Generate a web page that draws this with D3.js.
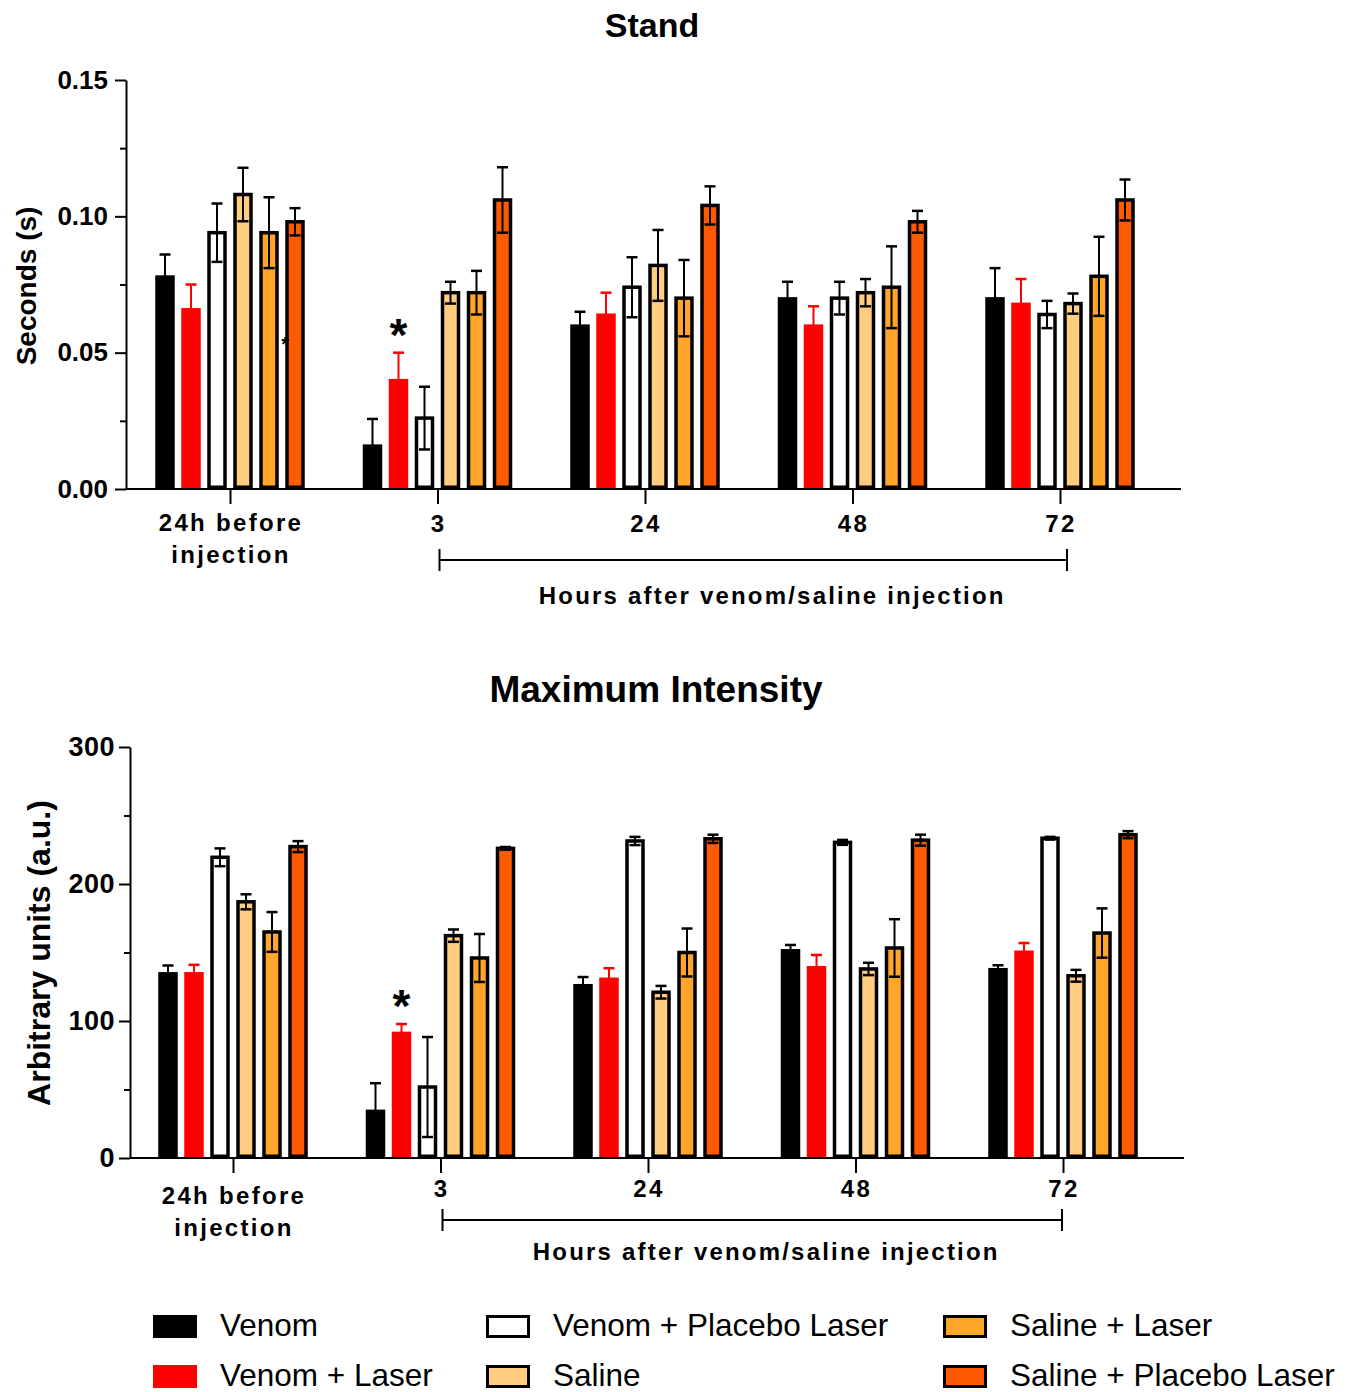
<!DOCTYPE html>
<html><head><meta charset="utf-8">
<script src="https://cdn.jsdelivr.net/npm/d3@7"></script>
<style>
html,body{margin:0;padding:0;background:#fff;}
svg text{font-family:"Liberation Sans", Arial, sans-serif;}
</style></head><body>
<svg id="chart" width="1354" height="1392"></svg>
<script>
// ---------- DATA ----------
const groups = ["24h before injection", "3", "24", "48", "72"];
const groupLabels = [["24h before", "injection"], ["3"], ["24"], ["48"], ["72"]];
const series = ["Venom", "Venom + Laser", "Venom + Placebo Laser", "Saline", "Saline + Laser", "Saline + Placebo Laser"];
const seriesColors = ["#000000", "#ff0000", "#ffffff", "#ffcc80", "#ffa52a", "#ff5a00"];

// Stand (seconds)
const standVenom          = [0.078, 0.016, 0.060, 0.070, 0.070];
const standVenomLaser     = [0.066, 0.040, 0.064, 0.060, 0.068];
const standVenomPlacebo   = [0.094, 0.026, 0.074, 0.070, 0.064];
const standSaline         = [0.108, 0.072, 0.082, 0.072, 0.068];
const standSalineLaser    = [0.094, 0.072, 0.070, 0.074, 0.078];
const standSalinePlacebo  = [0.098, 0.106, 0.104, 0.098, 0.106];
const standVenomErr         = [0.008, 0.0097, 0.005, 0.006, 0.011];
const standVenomLaserErr    = [0.009, 0.010, 0.008, 0.007, 0.009];
const standVenomPlaceboErr  = [0.0107, 0.0115, 0.011, 0.006, 0.005];
const standSalineErr        = [0.0098, 0.004, 0.013, 0.005, 0.0037];
const standSalineLaserErr   = [0.013, 0.008, 0.014, 0.015, 0.0145];
const standSalinePlaceboErr = [0.005, 0.012, 0.007, 0.004, 0.0075];
const standTicks = [0, 0.05, 0.10, 0.15];
const standMinorTicks = [0.025, 0.075, 0.125];

// Maximum Intensity (a.u.)
const intVenom          = [135, 34.6, 126.3, 151.8, 138];
const intVenomLaser     = [135, 91.5, 131, 139.4, 150.7];
const intVenomPlacebo   = [219.5, 51.8, 231.4, 230.4, 233.4];
const intSaline         = [187, 162.3, 121, 138, 133];
const intSalineLaser    = [165, 146, 150, 153.3, 164.2];
const intSalinePlacebo  = [227.3, 226, 233, 232, 236];
const intVenomErr         = [5.5, 20, 5.8, 3.7, 2.7];
const intVenomLaserErr    = [6, 6.3, 7.5, 8.8, 6.2];
const intVenomPlaceboErr  = [6.5, 36.5, 3, 1.8, 1];
const intSalineErr        = [5.5, 4.5, 4.6, 4.5, 4.3];
const intSalineLaserErr   = [14.5, 17.5, 17.5, 21, 18];
const intSalinePlaceboErr = [4, 1, 3, 4, 2.6];
const intTicks = [0, 100, 200, 300];
const intMinorTicks = [50, 150, 250];

// significance marks: [group, series]
const standStars = [["3", "Venom + Laser"]];
const intStars = [["3", "Venom + Laser"]];
const standStray = [["24h before injection", "Saline + Placebo Laser", 0.0546]];

// ---------- DRAW ----------
const svg = d3.select("#chart");
const legendRows = [["Venom", "Venom + Placebo Laser", "Saline + Laser"],
                    ["Venom + Laser", "Saline", "Saline + Placebo Laser"]];

function drawPanel(p) {
  const g = svg.append("g");
  const x = d3.scalePoint().domain(groups).range([p.c0, p.c1]);
  const xi = d3.scaleBand().domain(series).range([-78, 78]).paddingInner(0.25).paddingOuter(0.125);
  const y = d3.scaleLinear().domain(p.domain).range([p.yb, p.yt]);
  const sw = 3.5;

  g.append("text").attr("x", p.titleX).attr("y", p.titleY).attr("text-anchor", "middle")
    .attr("font-weight", "bold").attr("font-size", p.titleSize).text(p.title);

  g.append("text").attr("transform", `translate(${p.ylabX},${p.ylabY}) rotate(-90)`)
    .attr("text-anchor", "middle").attr("font-weight", "bold").attr("font-size", p.ylabSize)
    .text(p.ylabel);

  // bars
  series.forEach((s, si) => {
    groups.forEach((gn, gi) => {
      const v = p.means[si][gi];
      const x0 = x(gn) + xi(s), w = xi.bandwidth();
      if (si >= 2) {
        g.append("rect").attr("x", x0 + sw / 2).attr("y", y(v))
          .attr("width", w - sw).attr("height", y(0) - y(v) - sw / 2)
          .attr("fill", seriesColors[si]).attr("stroke", "#000").attr("stroke-width", sw);
      } else {
        g.append("rect").attr("x", x0).attr("y", y(v) - 1)
          .attr("width", w).attr("height", y(0) - y(v) + 1)
          .attr("fill", seriesColors[si]);
      }
    });
  });

  // error bars
  series.forEach((s, si) => {
    groups.forEach((gn, gi) => {
      const v = p.means[si][gi], e = p.errs[si][gi];
      const cx = x(gn) + xi(s) + xi.bandwidth() / 2;
      const col = si === 1 ? "#ff0000" : "#000";
      const lo = si >= 2 ? v - e : v;
      g.append("line").attr("x1", cx).attr("x2", cx).attr("y1", y(lo)).attr("y2", y(v + e))
        .attr("stroke", col).attr("stroke-width", 2);
      g.append("line").attr("x1", cx - 5.5).attr("x2", cx + 5.5).attr("y1", y(v + e)).attr("y2", y(v + e))
        .attr("stroke", col).attr("stroke-width", 2.5);
      if (si >= 2) {
        g.append("line").attr("x1", cx - 5.5).attr("x2", cx + 5.5).attr("y1", y(v - e)).attr("y2", y(v - e))
          .attr("stroke", col).attr("stroke-width", 2.5);
      }
    });
  });

  // stars
  p.stars.forEach(([gn, s]) => {
    const si = series.indexOf(s), gi = groups.indexOf(gn);
    const top = p.means[si][gi] + p.errs[si][gi];
    g.append("text").attr("x", x(gn) + xi(s) + xi.bandwidth() / 2).attr("y", y(top) - 2)
      .attr("text-anchor", "middle").attr("font-weight", "bold").attr("font-size", 46).text("*");
  });
  (p.stray || []).forEach(([gn, s, v]) => {
    g.append("text").attr("x", x(gn) + xi(s)).attr("y", y(v) + 11)
      .attr("text-anchor", "middle").attr("font-weight", "bold").attr("font-size", 20).text("*");
  });

  // y axis
  const ya = g.append("g").attr("transform", `translate(${p.ax},0)`)
    .call(d3.axisLeft(y).tickValues(p.ticks).tickSize(11).tickSizeOuter(0).tickPadding(p.tickPad)
      .tickFormat(d3.format(p.fmt)));
  ya.select(".domain").attr("stroke-width", 2);
  ya.selectAll(".tick line").attr("stroke-width", 2);
  ya.selectAll(".tick text").attr("font-size", p.tickSize).attr("font-weight", "bold")
    .attr("font-family", '"Liberation Sans", Arial, sans-serif')
    .attr("letter-spacing", p.tickLS).attr("fill", "#000");
  const ym = g.append("g").attr("transform", `translate(${p.ax},0)`)
    .call(d3.axisLeft(y).tickValues(p.minor).tickSize(6).tickFormat(""));
  ym.select(".domain").remove();
  ym.selectAll(".tick line").attr("stroke-width", 2);

  // x axis
  g.append("line").attr("x1", p.ax).attr("x2", p.xEnd).attr("y1", y(0)).attr("y2", y(0))
    .attr("stroke", "#000").attr("stroke-width", 2);
  const xa = g.append("g").attr("transform", `translate(0,${y(0)})`)
    .call(d3.axisBottom(x).tickSize(15).tickFormat(""));
  xa.select(".domain").remove();
  xa.selectAll(".tick line").attr("stroke-width", 2);

  groups.forEach((gn, gi) => {
    const lines = groupLabels[gi];
    lines.forEach((t, li) => {
      const yy = lines.length > 1 ? p.catY + li * 32 : p.numY;
      g.append("text").attr("x", x(gn) + 1).attr("y", yy).attr("text-anchor", "middle")
        .attr("font-weight", "bold").attr("font-size", 24).attr("letter-spacing", 2.3).text(t);
    });
  });

  // bracket
  const bx0 = x("3") + p.bOff0, bx1 = x("72") + p.bOff1;
  g.append("line").attr("x1", bx0).attr("x2", bx1).attr("y1", p.brY).attr("y2", p.brY)
    .attr("stroke", "#000").attr("stroke-width", 2);
  [bx0, bx1].forEach(bx => g.append("line").attr("x1", bx).attr("x2", bx)
    .attr("y1", p.brY - 11).attr("y2", p.brY + 11).attr("stroke", "#000").attr("stroke-width", 2));
  g.append("text").attr("x", (bx0 + bx1) / 2 + p.hoursDX).attr("y", p.hoursY).attr("text-anchor", "middle")
    .attr("font-weight", "bold").attr("font-size", 24).attr("letter-spacing", 2.2)
    .text("Hours after venom/saline injection");
}

drawPanel({
  title: "Stand", titleX: 652, titleY: 37, titleSize: 34,
  ylabel: "Seconds (s)", ylabX: 36, ylabY: 286, ylabSize: 28,
  c0: 230, c1: 1060, ax: 126, xEnd: 1181, yb: 489, yt: 80,
  domain: [0, 0.15], ticks: standTicks, minor: standMinorTicks, fmt: ".2f",
  tickPad: 7, tickSize: 26, tickLS: 0,
  means: [standVenom, standVenomLaser, standVenomPlacebo, standSaline, standSalineLaser, standSalinePlacebo],
  errs: [standVenomErr, standVenomLaserErr, standVenomPlaceboErr, standSalineErr, standSalineLaserErr, standSalinePlaceboErr],
  stars: standStars, stray: standStray,
  catY: 531, numY: 532, brY: 560, bOff0: 2, bOff1: 7, hoursDX: 19, hoursY: 604
});

drawPanel({
  title: "Maximum Intensity", titleX: 656, titleY: 702, titleSize: 37,
  ylabel: "Arbitrary units (a.u.)", ylabX: 50, ylabY: 953, ylabSize: 32,
  c0: 233, c1: 1063, ax: 130, xEnd: 1184, yb: 1158, yt: 747,
  domain: [0, 300], ticks: intTicks, minor: intMinorTicks, fmt: "d",
  tickPad: 4, tickSize: 27, tickLS: 0.5,
  means: [intVenom, intVenomLaser, intVenomPlacebo, intSaline, intSalineLaser, intSalinePlacebo],
  errs: [intVenomErr, intVenomLaserErr, intVenomPlaceboErr, intSalineErr, intSalineLaserErr, intSalinePlaceboErr],
  stars: intStars,
  catY: 1204, numY: 1197, brY: 1220, bOff0: 2, bOff1: -1, hoursDX: 14, hoursY: 1260
});

// legend
const legX = [153, 486, 943];
const legY = [1315, 1365];
const lg = svg.append("g");
legendRows.forEach((row, ri) => {
  row.forEach((name, ci) => {
    const si = series.indexOf(name);
    if (si >= 2) {
      lg.append("rect").attr("x", legX[ci] + 1.5).attr("y", legY[ri] + 1.5).attr("width", 41).attr("height", 20)
        .attr("fill", seriesColors[si]).attr("stroke", "#000").attr("stroke-width", 3);
    } else {
      lg.append("rect").attr("x", legX[ci]).attr("y", legY[ri]).attr("width", 44).attr("height", 23)
        .attr("fill", seriesColors[si]);
    }
    lg.append("text").attr("x", legX[ci] + 67).attr("y", legY[ri] + 21).attr("font-size", 31.5).text(name);
  });
});
</script>
</body></html>
